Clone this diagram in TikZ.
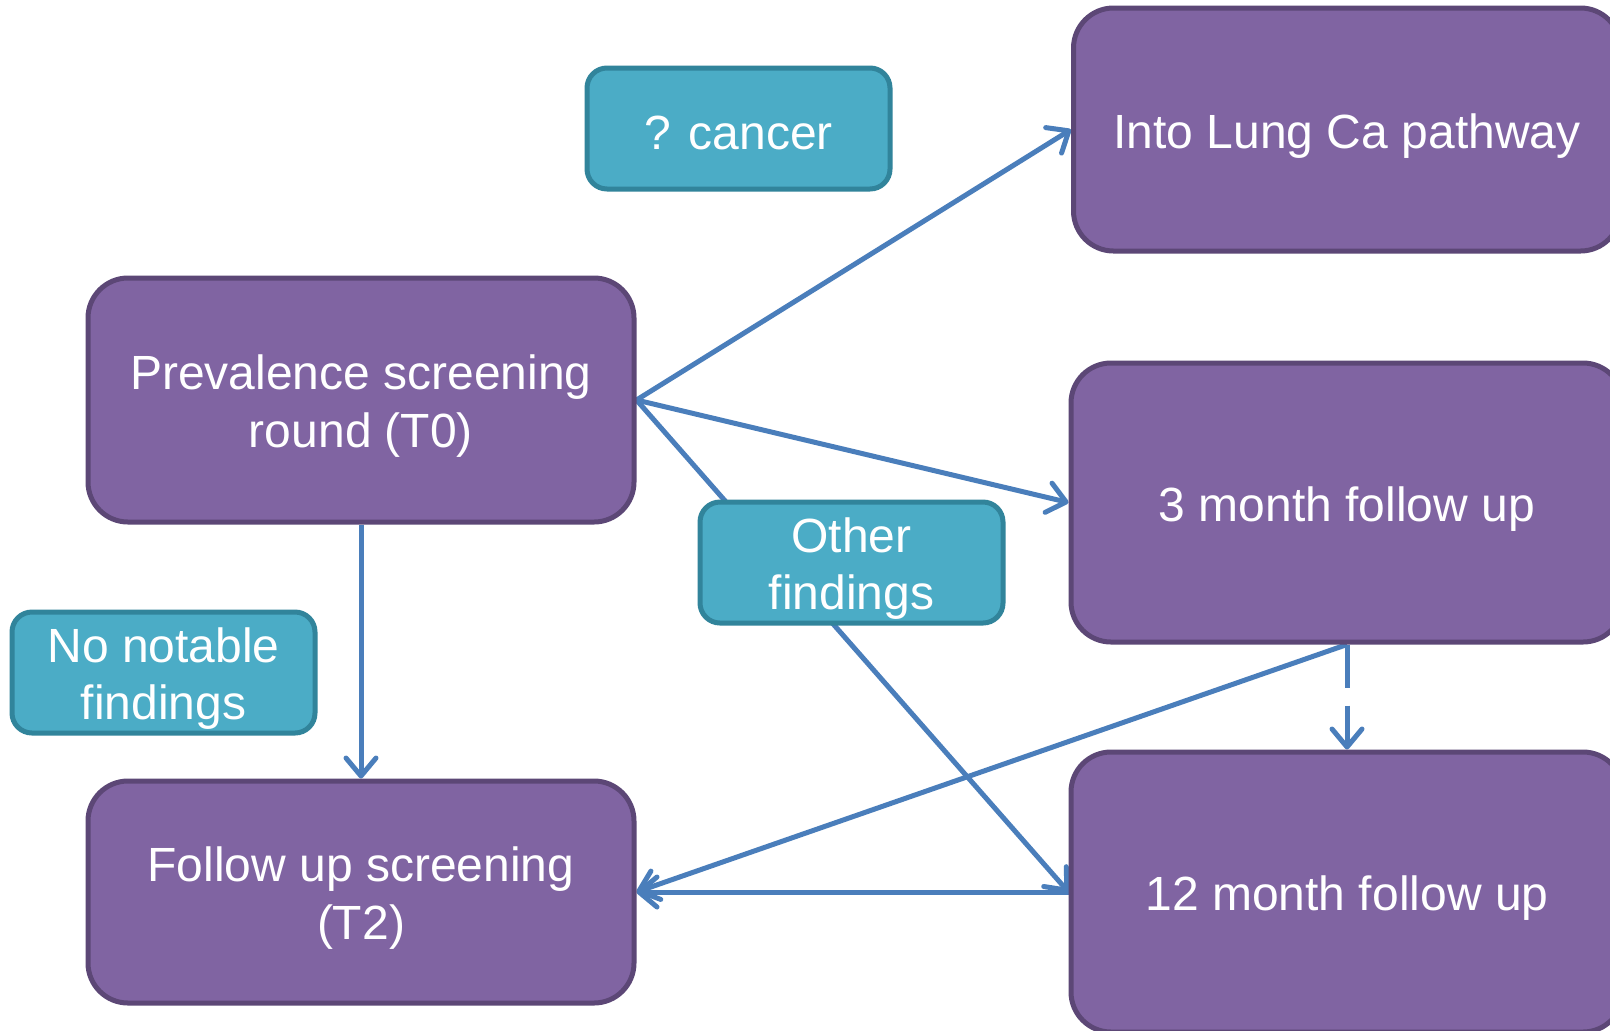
\documentclass[tikz,border=0pt]{standalone}
\usepackage{fontspec}
\setmainfont{Liberation Sans}
\usetikzlibrary{positioning, arrows.meta, backgrounds}
\definecolor{boxpurple}{HTML}{8064A2}
\definecolor{edgepurple}{HTML}{5C4776}
\definecolor{boxteal}{HTML}{4BACC6}
\definecolor{edgeteal}{HTML}{31849B}
\definecolor{linkblue}{HTML}{4A7EBB}
\newcommand{\lowerline}{\rule{0pt}{23.5pt}}

\begin{document}
\begin{tikzpicture}[x=0.5pt, y=-0.5pt,
    boxtext/.style={text=white, align=center, inner sep=0pt, font=\fontsize{24}{28.8}\selectfont},
    stage/.style={boxtext, rectangle, rounded corners=20pt, draw=edgepurple, fill=boxpurple, line width=2.5pt},
    finding/.style={boxtext, rectangle, rounded corners=10pt, draw=edgeteal, fill=boxteal, line width=2.5pt,
        minimum width=151.5pt, minimum height=60.5pt},
    link/.style={draw=linkblue, line width=2.5pt,
        -{Straight Barb[length=9pt, width=15pt, line cap=round, line join=round]}}]
    \useasboundingbox (0,0) rectangle (1610,1030);
    \clip (0,0) rectangle (1610,1030);

    % Screening rounds
    \node[stage, minimum width=273pt, minimum height=122pt] (prev) at (361,400) {\lowerline Prevalence screening\\round (T0)};
    \node[stage, below=127pt of prev, minimum width=273pt, minimum height=111pt] (followup) {\lowerline Follow up screening\\(T2)};

    % Follow up outcomes
    \node[stage, right=216pt of followup, minimum width=276pt, minimum height=140pt] (month12) {\lowerline 12 month follow up};
    \node[stage, above=52.5pt of month12, minimum width=276pt, minimum height=139.5pt] (month3) {\lowerline 3 month follow up};
    \node[stage, above=53.5pt of month3, minimum width=273.5pt, minimum height=121.5pt] (lung) {\lowerline Into Lung Ca pathway};

    % Findings
    \node[finding] (cancer) at (738.5,128.5) {\rule{0pt}{21pt}? cancer};
    \node[finding] (other) at (851.5,562.5) {\lowerline Other\\findings};
    \node[finding] (nonotable) at (163.5,672.5) {\lowerline No notable\\findings};

    % Connections
    \begin{scope}[on background layer]
        \fill[white] (0,0) rectangle (1610,1030);
        \draw[link] (prev.east) -- (lung.west);
        \draw[link] (prev.east) -- (month3.west);
        \draw[link] (prev.east) -- (month12.west);
        \draw[link] (prev.south) -- (followup.north);
        \draw[link] (month3.south) -- (followup.east);
        \draw[link, dash pattern=on 21.5pt off 9pt] (month3.south) -- (month12.north);
        \draw[link] (month12.west |- followup.east) -- (followup.east);
    \end{scope}
\end{tikzpicture}
\end{document}
